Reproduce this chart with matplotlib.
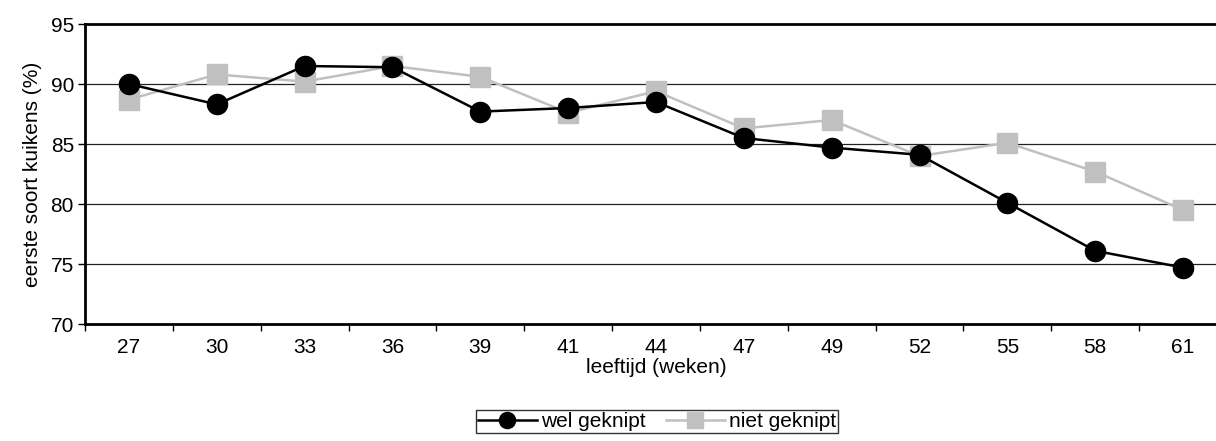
import matplotlib
matplotlib.use("Agg")
import matplotlib.pyplot as plt
import numpy as np

plt.rcParams['font.family'] = ['Liberation Sans', 'DejaVu Sans']

weeks = ['27', '30', '33', '36', '39', '41', '44', '47', '49', '52', '55', '58', '61']
wel_geknipt = [90.0, 88.3, 91.5, 91.4, 87.7, 88.0, 88.5, 85.5, 84.7, 84.1, 80.1, 76.1, 74.7]
niet_geknipt = [88.7, 90.8, 90.2, 91.5, 90.6, 87.6, 89.4, 86.3, 87.0, 84.0, 85.1, 82.7, 79.5]

fig = plt.figure(figsize=(12.16, 4.41), dpi=100)
ax = fig.add_axes([85/1216, 1-324/441, (1227-85)/1216, 300/441])

x = np.arange(len(weeks))
ax.plot(x, wel_geknipt, color='black', lw=1.8, marker='o', ms=14.5,
        label='wel geknipt', zorder=3)
ax.plot(x, niet_geknipt, color='#c0c0c0', lw=1.8, marker='s', ms=15,
        label='niet geknipt', zorder=2)

ax.set_xlim(-0.5, len(weeks) - 0.5)
ax.set_ylim(70, 95)
ax.set_yticks([70, 75, 80, 85, 90, 95])
for v in [75, 80, 85, 90]:
    ax.axhline(v, color='#222222', lw=0.9, zorder=1)

ax.set_xticks(x)
ax.set_xticklabels(weeks, fontsize=15)
ax.set_xticks(np.arange(-0.5, len(weeks), 1), minor=True)
ax.tick_params(axis='x', which='major', length=0, pad=10)
ax.tick_params(axis='x', which='minor', length=5, width=1, direction='out')
ax.tick_params(axis='y', labelsize=15, length=5, width=1, direction='out', pad=3)

ax.spines['right'].set_visible(False)
for s in ['left', 'bottom', 'top']:
    ax.spines[s].set_linewidth(2)

ax.set_xlabel('leeftijd (weken)', fontsize=15, labelpad=1)
ax.set_ylabel('eerste soort kuikens (%)', fontsize=15, labelpad=6)

leg = fig.legend(loc='upper center', bbox_to_anchor=(657/1216, 1-410/441), ncol=2,
                 fontsize=15, frameon=True, fancybox=False, edgecolor='black',
                 handlelength=2.8, handletextpad=0.2, columnspacing=1.0,
                 borderpad=0.1, borderaxespad=0, markerscale=0.8)
leg.get_frame().set_linewidth(1)

fig.savefig('out.png', dpi=100)
